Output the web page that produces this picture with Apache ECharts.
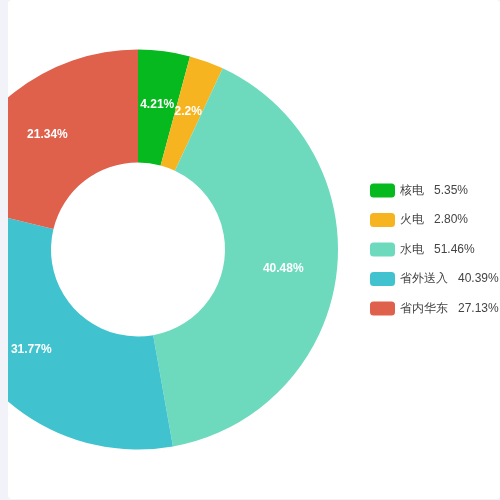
<!DOCTYPE html>
<html>
<head>
<meta charset="utf-8">
<script src="https://cdn.jsdelivr.net/npm/echarts@6/dist/echarts.min.js"></script>
<style>
  html, body { margin: 0; padding: 0; background: #f2f3f8; }
  #chart {
    position: absolute; left: 8px; top: 0; width: 492px; height: 499px;
    background: #fff; border-radius: 4px; overflow: hidden;
  }
</style>
</head>
<body>
<div id="chart"></div>
<script>
// 发电来源占比
const categories = ['核电', '火电', '水电', '省外送入', '省内华东']
const shareValues = [4.21, 2.2, 40.48, 31.77, 21.34]
// 图例右侧显示的百分比
const legendPercents = ['5.35%', '2.80%', '51.46%', '40.39%', '27.13%']
const colors = ['#05b91f', '#f7b421', '#6ddabe', '#41c3cf', '#df604b']

const seriesData = categories.map((name, i) => ({ name, value: shareValues[i] }))

echarts.init(document.getElementById('chart')).setOption({
  color: colors,
  legend: {
    orient: 'vertical',
    left: 357,
    top: 'middle',
    itemWidth: 25,
    itemHeight: 14,
    itemGap: 15.5,
    data: categories,
    formatter: (name) => name + '   ' + legendPercents[categories.indexOf(name)],
    textStyle: {
      color: '#444',
      fontSize: 12
    }
  },
  series: [
    {
      type: 'pie',
      radius: [87, 200],
      center: [130, '50%'],
      startAngle: 90,
      minAngle: 10,
      avoidLabelOverlap: false,
      labelLayout: { hideOverlap: false },
      data: seriesData,
      label: {
        show: true,
        position: 'inside',
        formatter: '{c}%',
        color: '#fff',
        fontSize: 12,
        fontWeight: 'bold',
        textBorderWidth: 0
      },
      labelLine: { show: false },
      emphasis: { scale: false }
    }
  ]
})
</script>
</body>
</html>
